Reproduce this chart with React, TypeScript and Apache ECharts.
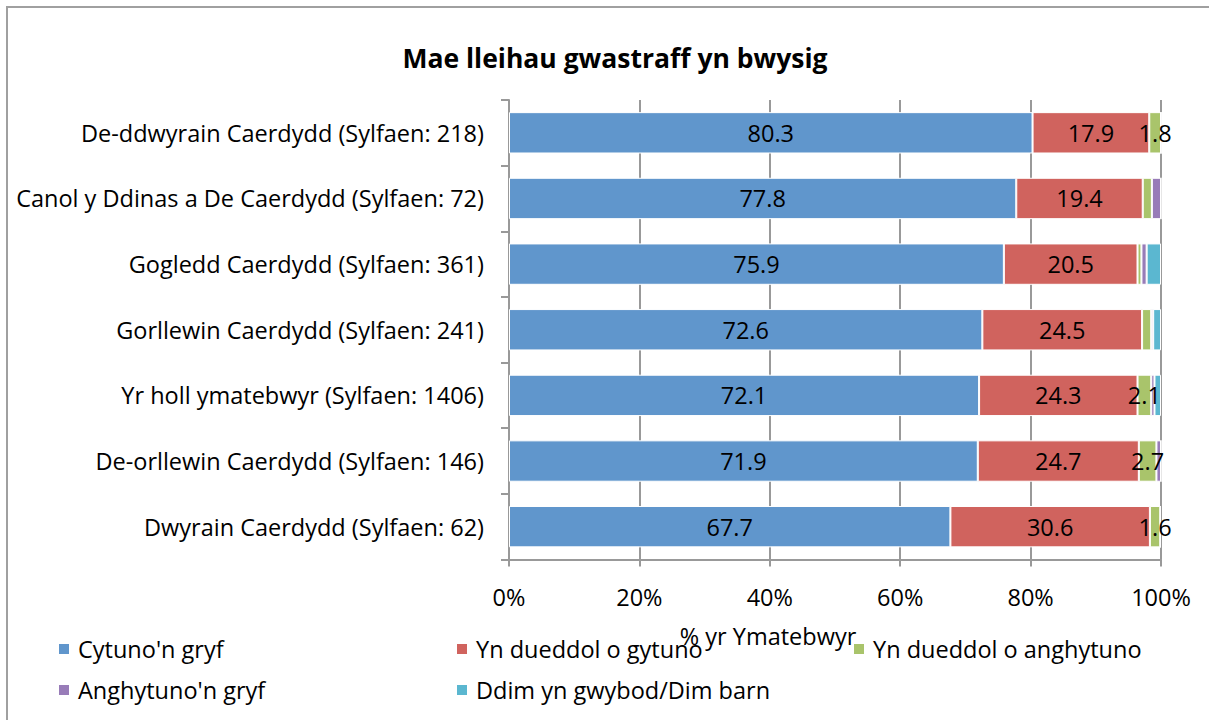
import React, { useEffect, useRef } from "react";
import * as echarts from "echarts";

const categories = [
  "De-ddwyrain Caerdydd (Sylfaen: 218)",
  "Canol y Ddinas a De Caerdydd (Sylfaen: 72)",
  "Gogledd Caerdydd (Sylfaen: 361)",
  "Gorllewin Caerdydd (Sylfaen: 241)",
  "Yr holl ymatebwyr (Sylfaen: 1406)",
  "De-orllewin Caerdydd (Sylfaen: 146)",
  "Dwyrain Caerdydd (Sylfaen: 62)",
];

const seriesNames = [
  "Cytuno'n gryf",
  "Yn dueddol o gytuno",
  "Yn dueddol o anghytuno",
  "Anghytuno'n gryf",
  "Ddim yn gwybod/Dim barn",
];

const cytunoGryf = [80.3, 77.8, 75.9, 72.6, 72.1, 71.9, 67.7];
const dueddolGytuno = [17.9, 19.4, 20.5, 24.5, 24.3, 24.7, 30.6];
const dueddolAnghytuno = [1.8, 1.4, 0.6, 1.4, 2.1, 2.7, 1.6];
const anghytunoGryf = [0, 1.4, 0.8, 0.3, 0.5, 0.7, 0];
const ddimGwybod = [0, 0, 2.2, 1.2, 1.0, 0, 0];

const xTicks = [0, 20, 40, 60, 80, 100];

const colors = ["#6096CC", "#D0635E", "#A9C46B", "#987CB8", "#5BB7D0"];
const FONT = "Open Sans";
const FS = 23.5;

export default function App() {
  const ref = useRef<HTMLDivElement>(null);
  useEffect(() => {
    if (!ref.current) return;
    const chart = echarts.init(ref.current, null, { renderer: "svg" });
    const allData = [cytunoGryf, dueddolGytuno, dueddolAnghytuno, anghytunoGryf, ddimGwybod];
    const legendPos = [
      { left: 57, top: 637 },
      { left: 455, top: 637 },
      { left: 852, top: 637 },
      { left: 57, top: 678 },
      { left: 455, top: 678 },
    ];
    chart.setOption({
      animation: false,
      backgroundColor: "#fff",
      textStyle: { fontFamily: FONT },
      title: {
        text: "Mae lleihau gwastraff yn bwysig",
        left: 610,
        textAlign: "center",
        top: 39,
        textStyle: { fontFamily: FONT, fontWeight: "bold", fontSize: 26.5, color: "#000" },
      },
      legend: seriesNames.map((n, i) => ({
        data: [n],
        left: legendPos[i].left,
        top: legendPos[i].top,
        padding: 0,
        itemWidth: 12,
        itemHeight: 12,
        icon: "rect",
        selectedMode: false,
        textStyle: { fontFamily: FONT, fontSize: FS, color: "#000", padding: [0, 0, 0, 3] },
      })),
      grid: { left: 509, right: 48, top: 100, bottom: 160.5, containLabel: false },
      xAxis: {
        type: "value",
        min: xTicks[0],
        max: xTicks[xTicks.length - 1],
        interval: 20,
        axisLabel: { formatter: "{value}%", fontSize: FS, color: "#000", margin: 25, fontFamily: FONT },
        axisLine: { show: true, lineStyle: { color: "#999", width: 2 } },
        axisTick: { show: true, length: 7, lineStyle: { color: "#999", width: 2 } },
        splitLine: { show: true, lineStyle: { color: "#999", width: 2 } },
      },
      yAxis: {
        type: "category",
        inverse: true,
        data: categories,
        axisLabel: { fontSize: FS, color: "#000", margin: 25, fontFamily: FONT },
        axisLine: { show: true, lineStyle: { color: "#999", width: 2 } },
        axisTick: { show: true, length: 8, lineStyle: { color: "#999", width: 2 } },
        splitLine: { show: false },
      },
      graphic: [
        {
          type: "rect",
          shape: { x: 7, y: 7, width: 1230, height: 740 },
          style: { fill: "none", stroke: "#a0a0a0", lineWidth: 2 },
          silent: true,
        },
        {
          type: "text",
          x: 768,
          y: 636,
          style: {
            text: "% yr Ymatebwyr",
            fontFamily: FONT,
            fontSize: FS,
            fill: "#000",
            align: "center",
            verticalAlign: "middle",
          },
          z: 100,
        },
      ],
      series: seriesNames.map((n, i) => ({
        name: n,
        type: "bar",
        stack: "total",
        barCategoryGap: "37%",
        data: allData[i],
        itemStyle: { color: colors[i], borderColor: "#fff", borderWidth: 1 },
        label: {
          show: i < 3,
          position: "inside",
          color: "#000",
          fontSize: FS,
          fontFamily: FONT,
          formatter: (p: any) => (p.value >= 1.5 ? String(p.value) : ""),
        },
      })),
    });
    return () => chart.dispose();
  }, []);
  return (
    <div
      ref={ref}
      style={{ position: "absolute", left: 0, top: 0, width: 1209, height: 720 }}
    />
  );
}
